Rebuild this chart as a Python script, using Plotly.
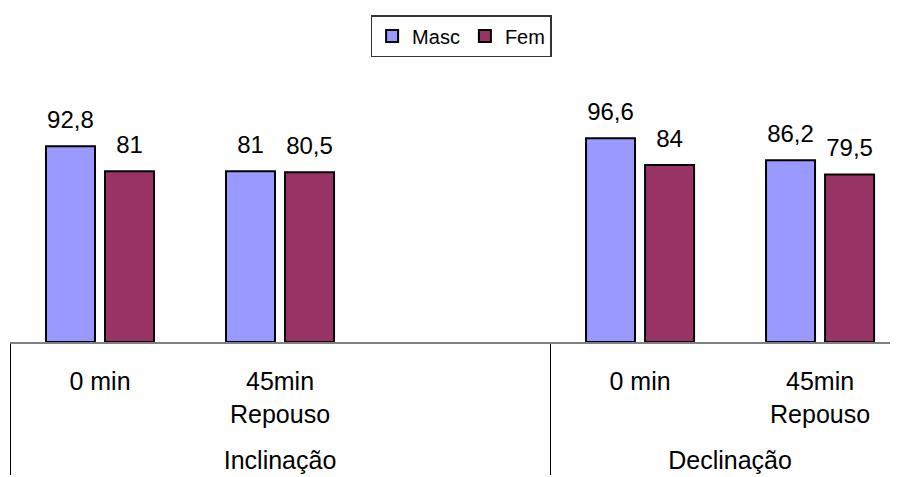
import plotly.graph_objects as go

groups = [" <br>Inclinação"] * 3 + [" <br>Declinação"] * 2
times = ["0 min", "45min<br>Repouso", " ", "0 min", "45min<br>Repouso"]
masc = [92.8, 81, None, 96.6, 86.2]
fem = [81, 80.5, None, 84, 79.5]
series = [("Masc", masc, "#9999FF"), ("Fem", fem, "#993366")]

def lab(vals):
    return ["" if v is None else ("%g" % v).replace(".", ",") for v in vals]

x = [groups, times]
font = dict(family="Liberation Sans, Arial, sans-serif", size=24, color="black")

fig = go.Figure()
for name, vals, col in series:
    fig.add_trace(go.Bar(name=name, x=x, y=vals,
                         marker=dict(color=col, line=dict(color="black", width=2))))
for name, vals, col in series:
    fig.add_trace(go.Scatter(name=name, x=x, y=vals, text=lab(vals), mode="markers+text",
                             textposition="top center", textfont=font,
                             marker=dict(size=18, color="rgba(0,0,0,0)"),
                             showlegend=False, cliponaxis=False, hoverinfo="skip"))

fig.update_layout(
    width=890, height=469,
    margin=dict(l=2, r=0, t=81, b=135, autoexpand=False),
    plot_bgcolor="white", paper_bgcolor="white",
    barmode="group", bargap=0.344, bargroupgap=0.17,
    scattermode="group", scattergap=0.344,
    font=font,
    showlegend=True,
    legend=dict(orientation="h", x=0.508, xanchor="center", y=1.292, yanchor="top",
                bordercolor="#333333", borderwidth=1.5, font=dict(size=20),
                itemwidth=30, tracegroupgap=0),
)
fig.update_xaxes(type="multicategory", range=[-0.5, 4.433], showline=True, linecolor="#808080",
                 linewidth=2, showdividers=True, dividercolor="black", dividerwidth=1,
                 ticks="", tickfont=dict(family=font["family"], size=25, color="black"),
                 showgrid=False, automargin=False, ticklabelstandoff=16)
fig.update_yaxes(range=[0, 120], visible=False, showgrid=False, automargin=False)

fig.write_html("out.html")
